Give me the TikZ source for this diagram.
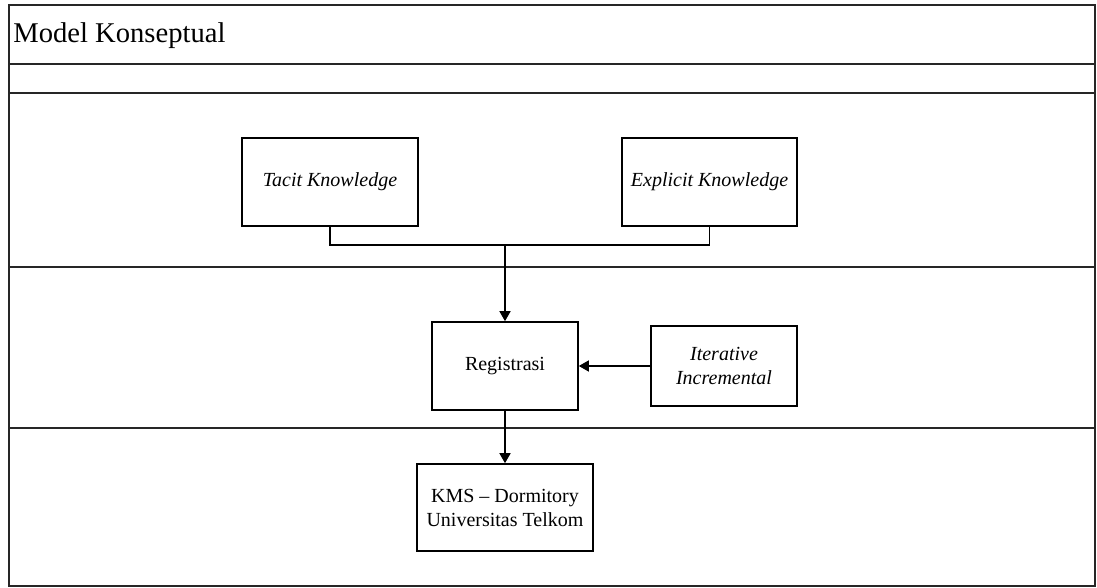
\documentclass[tikz,border=0pt]{standalone}
\usepackage{fontspec}
\setmainfont{Liberation Serif}
\usetikzlibrary{arrows.meta}
\usetikzlibrary{positioning}
\tikzset{x=0.5pt, y=-0.5pt,
lane/.style={ % frame and lane lines
draw, line width=1pt, color=black!85},
box/.style={ % process boxes
draw, line width=0.8pt, align=center,
font=\fontsize{10}{12}\selectfont},
link/.style={draw, line width=0.75pt},
arrow/.style={link, -{Triangle[width=5.5pt,length=5pt]}}}

\begin{document}
\begin{tikzpicture}
\useasboundingbox (0,0) rectangle (1097,588);
% frame with its lanes
\draw[lane] (9,5) rectangle (1095,586);
\foreach \y in {64,93,267,428}
  \draw[lane] (9,\y) -- (1095,\y);
\node[anchor=west, inner sep=0pt, font=\fontsize{14.3}{17}\selectfont] (title) at (13,36) {Model Konseptual};

\node[box, minimum width=88pt, minimum height=44pt] (tacit) at (330,182) {\textit{Tacit Knowledge}};
\node[box, minimum width=87.5pt, minimum height=44pt] (explicit) at (709.5,182) {\textit{Explicit Knowledge}};
\node[box, minimum width=73pt, minimum height=44pt] (regis) at (505,366) {Registrasi};
\node[box, minimum width=73pt, minimum height=40pt] (iter) at (724,366) {\textit{Iterative}\\\textit{Incremental}};
\node[box, minimum width=88pt, minimum height=43.5pt] (kms) at (505,507.5) {KMS -- Dormitory\\Universitas Telkom};

\coordinate (join) at (505,245);
\draw[link] (tacit.south) |- (join) -| (explicit.south);
\draw[arrow] (join) -- (regis);
\draw[arrow] (iter) -- (regis);
\draw[arrow] (regis) -- (kms);
\end{tikzpicture}
\end{document}
